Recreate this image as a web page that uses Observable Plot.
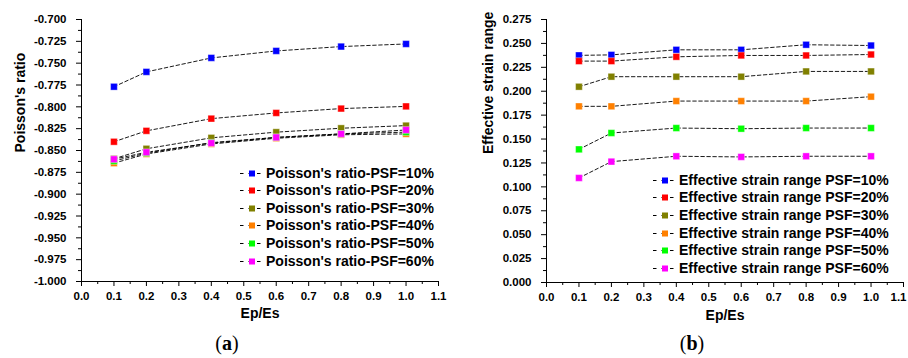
<!DOCTYPE html>
<html>
<head>
<meta charset="utf-8">
<script src="https://cdn.jsdelivr.net/npm/d3@7"></script>
<script src="https://cdn.jsdelivr.net/npm/@observablehq/plot@0.6"></script>
<style>
  html, body { margin: 0; padding: 0; background: #fff; }
  #wrap { position: relative; width: 908px; height: 358px; overflow: hidden; font-family: "Liberation Sans", Arial, sans-serif; }
  .panel { position: absolute; top: 0; }
  .legend { position: absolute; font-weight: bold; font-size: 14px; color: #000; }
  .legrow { position: absolute; white-space: nowrap; display: flex; align-items: center; height: 18px; }
  .cap { position: absolute; top: 332px; font-family: "Liberation Serif", "DejaVu Serif", serif; font-size: 20px; transform: translateX(-50%); }
</style>
</head>
<body>
<div id="wrap"></div>
<script>
// ---- data ----
const epEs = [0.1, 0.2, 0.4, 0.6, 0.8, 1.0];
const psfLabels = ["10%", "20%", "30%", "40%", "50%", "60%"];
const seriesColors = ["#0000ff", "#ff0000", "#808000", "#ff8000", "#00ff00", "#ff00ff"];

// (a) Poisson's ratio
const poissonPSF10 = [-0.777, -0.760, -0.744, -0.736, -0.731, -0.728];
const poissonPSF20 = [-0.840, -0.8275, -0.8135, -0.807, -0.802, -0.7995];
const poissonPSF30 = [-0.8595, -0.848, -0.8355, -0.829, -0.8245, -0.8215];
const poissonPSF40 = [-0.8645, -0.854, -0.8425, -0.836, -0.832, -0.831];
const poissonPSF50 = [-0.862, -0.853, -0.841, -0.835, -0.831, -0.829];
const poissonPSF60 = [-0.860, -0.852, -0.8415, -0.835, -0.831, -0.8265];

// (b) Effective strain range
const strainPSF10 = [0.2375, 0.238, 0.2433, 0.2433, 0.2486, 0.2478];
const strainPSF20 = [0.2315, 0.2315, 0.236, 0.2374, 0.2374, 0.2384];
const strainPSF30 = [0.2047, 0.2152, 0.2152, 0.2152, 0.2207, 0.2207];
const strainPSF40 = [0.1842, 0.1842, 0.1897, 0.1897, 0.1897, 0.1943];
const strainPSF50 = [0.1392, 0.1563, 0.1615, 0.1608, 0.1615, 0.1615];
const strainPSF60 = [0.1093, 0.1264, 0.132, 0.1313, 0.132, 0.132];

const xTicks = [0.0, 0.1, 0.2, 0.3, 0.4, 0.5, 0.6, 0.7, 0.8, 0.9, 1.0, 1.1];
const yTicksA = [-1.000, -0.975, -0.950, -0.925, -0.900, -0.875, -0.850, -0.825, -0.800, -0.775, -0.750, -0.725, -0.700];
const yTicksB = [0.000, 0.025, 0.050, 0.075, 0.100, 0.125, 0.150, 0.175, 0.200, 0.225, 0.250, 0.275];

const poissonSeries = [poissonPSF10, poissonPSF20, poissonPSF30, poissonPSF40, poissonPSF50, poissonPSF60];
const strainSeries = [strainPSF10, strainPSF20, strainPSF30, strainPSF40, strainPSF50, strainPSF60];

const legendA = psfLabels.map(p => "Poisson's ratio-PSF=" + p);
const legendB = psfLabels.map(p => "Effective strain range PSF=" + p);

function mids(arr) { return d3.pairs(arr).map(([a, b]) => (a + b) / 2); }

function makePanel(opts) {
  const { series, yTicks, yDomain, marginLeft, marginRight, yTitle, xTitleDy, yTitleDy, pullLastLabel } = opts;
  const lastX = xTicks[xTicks.length - 1];
  const marks = [];
  // axis lines
  marks.push(Plot.ruleX([0], { stroke: "#000", strokeWidth: 1 }));
  marks.push(Plot.ruleY([yDomain[0]], { stroke: "#000", strokeWidth: 1 }));
  // major / minor ticks
  marks.push(Plot.axisX({ ticks: xTicks, tickSize: 5, tickPadding: 5, tickFormat: d => (pullLastLabel && d === lastX) ? "" : d.toFixed(1), label: null }));
  if (pullLastLabel) {
    marks.push(Plot.axisX({ ticks: [lastX], tickSize: 0, tickPadding: 10, textAnchor: "end", dx: 3, tickFormat: d => d.toFixed(1), label: null }));
  }
  marks.push(Plot.axisX({ ticks: mids(xTicks), tickSize: 3, tickFormat: () => "", label: null }));
  marks.push(Plot.axisY({ ticks: yTicks, tickSize: 5, tickPadding: 10, tickFormat: d => d.toFixed(3), label: null }));
  marks.push(Plot.axisY({ ticks: mids(yTicks), tickSize: 3, tickFormat: () => "", label: null }));
  // dashed connecting lines
  series.forEach((vals) => {
    const data = epEs.map((x, i) => ({ x, y: vals[i] }));
    marks.push(Plot.line(data, { x: "x", y: "y", stroke: "#000", strokeWidth: 0.9, strokeDasharray: "3.5,2.5" }));
  });
  // square markers
  series.forEach((vals, k) => {
    const data = epEs.map((x, i) => ({ x, y: vals[i] }));
    marks.push(Plot.dot(data, { x: "x", y: "y", symbol: "square", r: 3.8, fill: seriesColors[k], stroke: "#fff", strokeWidth: 0.6, strokeOpacity: 0.6 }));
  });
  // axis titles
  marks.push(Plot.text(["Ep/Es"], { frameAnchor: "bottom", dy: xTitleDy, fontSize: 14, fontWeight: "bold" }));
  marks.push(Plot.text([yTitle], { frameAnchor: "left", dx: opts.yTitleDx, dy: yTitleDy, rotate: -90, fontSize: 14, fontWeight: "bold" }));

  return Plot.plot({
    width: 454,
    height: 330,
    marginTop: 19,
    marginBottom: opts.marginBottom,
    marginLeft,
    marginRight,
    x: { domain: [0, 1.1], label: null },
    y: { domain: yDomain, label: null },
    style: { fontFamily: "'Liberation Sans', Arial, sans-serif", fontWeight: "bold", fontSize: "11.5px", background: "transparent", color: "#000", overflow: "visible" },
    marks
  });
}

const wrap = document.getElementById("wrap");

const pa = makePanel({
  series: poissonSeries, yTicks: yTicksA, yDomain: [-1.0, -0.7],
  marginLeft: 81, marginRight: 16, marginBottom: 49,
  yTitle: "Poisson's ratio", yTitleDx: -61, yTitleDy: 2, xTitleDy: 36, pullLastLabel: false
});
pa.classList.add("panel");
pa.style.left = "0px";
wrap.appendChild(pa);

const pb = makePanel({
  series: strainSeries, yTicks: yTicksB, yDomain: [0, 0.275],
  marginLeft: 92, marginRight: 5, marginBottom: 48,
  yTitle: "Effective strain range", yTitleDx: -58, yTitleDy: 3, xTitleDy: 37, pullLastLabel: true
});
pb.classList.add("panel");
pb.style.left = "454px";
wrap.appendChild(pb);

function makeLegend(labels, left, top, spacing) {
  const lg = document.createElement("div");
  lg.className = "legend";
  lg.style.left = left + "px";
  lg.style.top = top + "px";
  labels.forEach((txt, k) => {
    const row = document.createElement("div");
    row.className = "legrow";
    row.style.top = (k * spacing - 9) + "px";
    row.innerHTML =
      `<svg width="25" height="18" style="margin-right:1px"><line x1="0" y1="9.5" x2="22" y2="9.5" stroke="#000" stroke-width="1" stroke-dasharray="3.5,5"/>` +
      `<rect x="9" y="6.5" width="6" height="6" fill="${seriesColors[k]}"/></svg><span>${txt}</span>`;
    lg.appendChild(row);
  });
  wrap.appendChild(lg);
}
makeLegend(legendA, 240, 172.5, 17.6);
makeLegend(legendB, 653, 179.5, 17.7);

const capA = document.createElement("div");
capA.className = "cap"; capA.style.left = "227px";
capA.innerHTML = "(<b>a</b>)";
wrap.appendChild(capA);
const capB = document.createElement("div");
capB.className = "cap"; capB.style.left = "692px";
capB.innerHTML = "(<b>b</b>)";
wrap.appendChild(capB);
</script>
</body>
</html>
